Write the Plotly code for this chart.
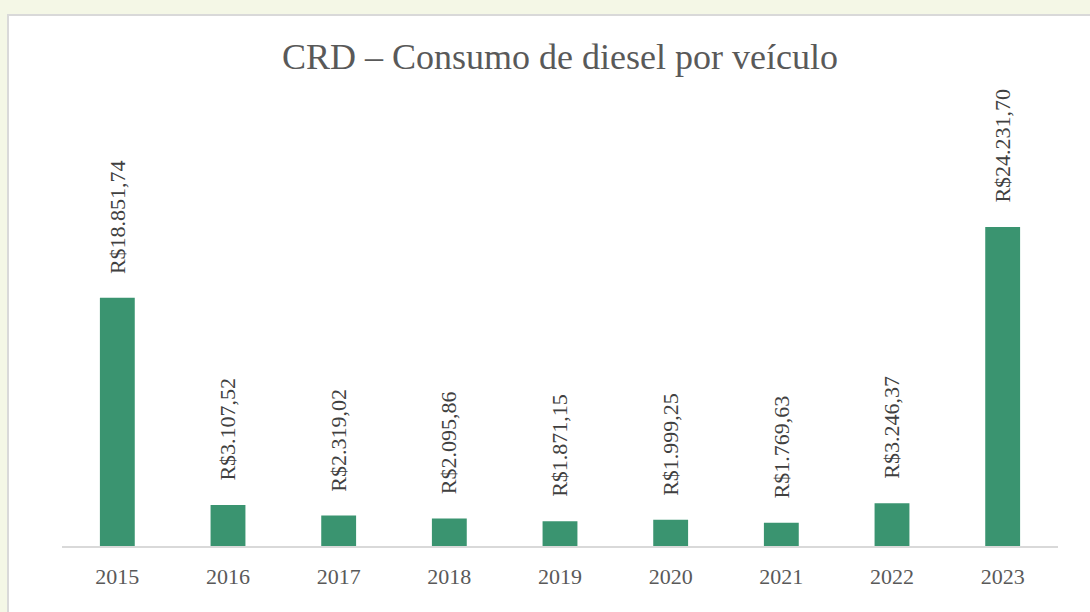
import plotly.graph_objects as go

years = ["2015", "2016", "2017", "2018", "2019", "2020", "2021", "2022", "2023"]
values = [18851.74, 3107.52, 2319.02, 2095.86, 1871.15, 1999.25, 1769.63, 3246.37, 24231.70]
labels = ["R$18.851,74", "R$3.107,52", "R$2.319,02", "R$2.095,86", "R$1.871,15",
          "R$1.999,25", "R$1.769,63", "R$3.246,37", "R$24.231,70"]

W, H = 1090, 612
ml, mr, mt, mb = 62, 32, 151, 66
pw, ph = W - ml - mr, H - mt - mb

def px_x(p):
    return (p - ml) / pw

def px_y(p):
    return (H - mb - p) / ph

serif = "Liberation Serif, Times New Roman, serif"

fig = go.Figure()
fig.add_trace(go.Bar(
    x=years, y=values, marker=dict(color="#3a9470", line=dict(width=0)),
    hoverinfo="skip",
))

for i, (v, lab) in enumerate(zip(values, labels)):
    fig.add_annotation(
        x=i, y=v, xref="x", yref="y", text=lab, textangle=-90, showarrow=False,
        xanchor="center", yanchor="bottom", yshift=22,
        font=dict(family=serif, size=22, color="#404040"),
    )

fig.add_shape(
    type="rect", xref="paper", yref="paper", layer="below",
    x0=px_x(8), x1=px_x(1200), y0=px_y(800), y1=px_y(15),
    fillcolor="white", line=dict(color="#d9d9d9", width=2),
)

fig.update_layout(
    width=W, height=H,
    margin=dict(l=ml, r=mr, t=mt, b=mb),
    paper_bgcolor="#f4f7e6", plot_bgcolor="rgba(0,0,0,0)",
    bargap=0.685, showlegend=False,
    title=dict(text="CRD – Consumo de diesel por veículo", x=0.5, xanchor="center",
               xref="paper", y=1 - 56 / H, yanchor="middle",
               font=dict(family=serif, size=36, color="#595959")),
    xaxis=dict(type="category", categoryorder="array", categoryarray=years,
               range=[-0.5, len(years) - 0.5], autorange=False,
               showline=True, linecolor="#d9d9d9", linewidth=2, showgrid=False,
               ticks="outside", ticklen=10, tickcolor="rgba(0,0,0,0)",
               tickfont=dict(family=serif, size=22, color="#595959")),
    yaxis=dict(range=[0, 30000], autorange=False, visible=False, showgrid=False, zeroline=False),
)

fig.write_html("out.html", config={"displayModeBar": False},
               post_script="document.body.style.margin='0';document.body.style.overflow='hidden';")
